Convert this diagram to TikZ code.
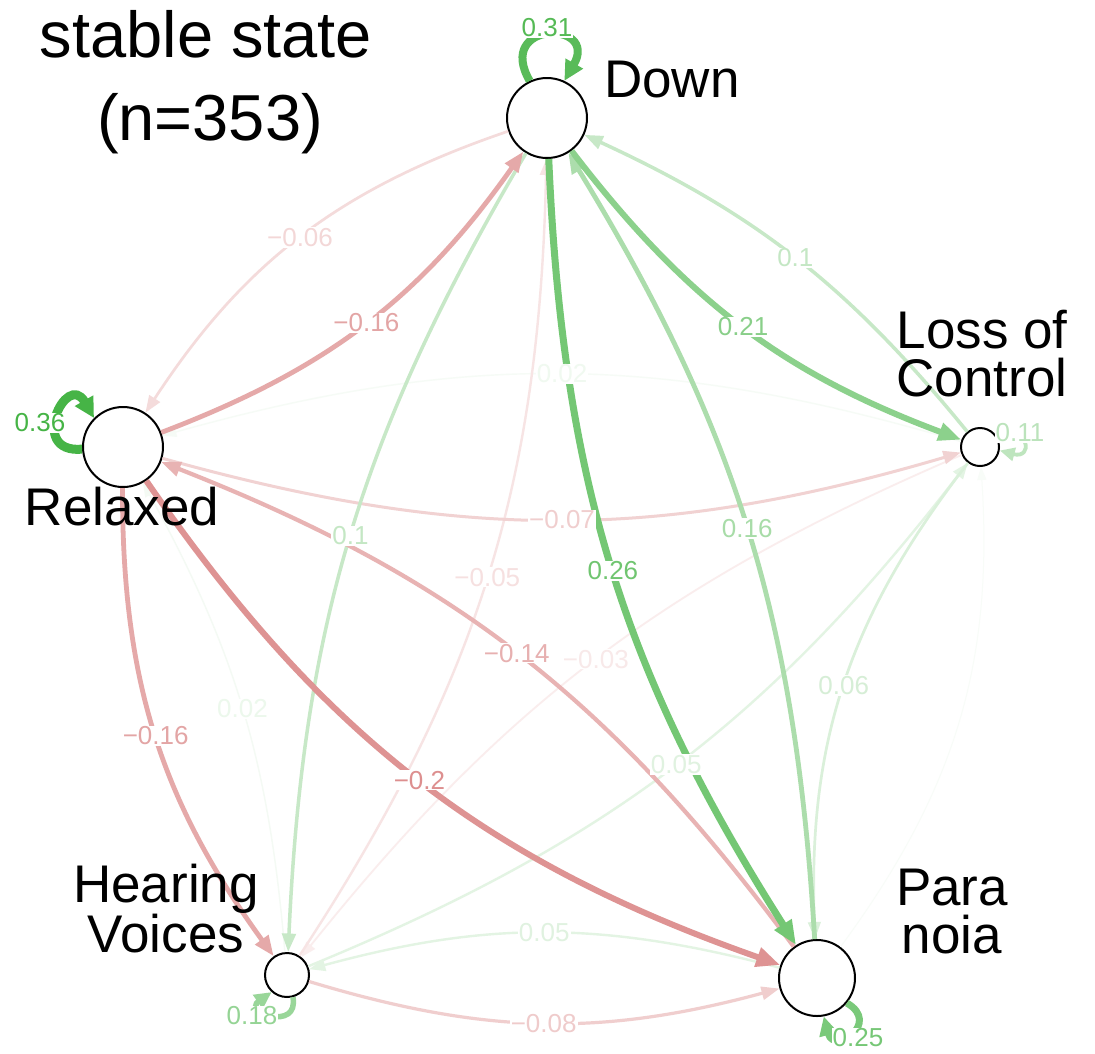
\documentclass[tikz,border=0pt]{standalone}
\usepackage{fontspec}
\setmainfont{Liberation Sans}
\usetikzlibrary{arrows.meta}
\definecolor{posc}{RGB}{70,180,70}
\definecolor{negc}{RGB}{200,75,75}
\begin{document}
\begin{tikzpicture}[x=1pt,y=1pt,
  vert/.style={circle, draw=black, line width=2pt, fill=white, inner sep=0pt, minimum size=#1},
  ed/.style n args={4}{draw=#1, line width=#2, -{Triangle[length=#3,width=#4]}},
  lab/.style={fill=white, inner sep=1pt, font=\fontsize{26}{26}\selectfont},
  big/.style={inner sep=0pt, anchor=base, font=\fontsize{53}{53}\selectfont},
  ttl/.style={inner sep=0pt, anchor=base, font=\fontsize{65}{65}\selectfont},
]
\path[use as bounding box, fill=white] (0,0) rectangle (1095,-1053);

% nodes
\node[vert=80pt] (D) at (547,-118) {};
\node[vert=80pt] (R) at (123,-447) {};
\node[vert=38pt] (L) at (980,-447) {};
\node[vert=44pt] (H) at (287,-975) {};
\node[vert=76pt] (P) at (817,-978) {};

% edges, weakest first
\draw[ed={posc!4!white}{1pt}{13pt}{9pt}] (P) to[bend right=20] (L);
\draw[ed={posc!6!white}{1.4pt}{14pt}{10pt}] (H) to[bend right=12] coordinate[pos=.5] (mHR) (R);
\draw[ed={posc!5!white}{1.4pt}{14pt}{10pt}] (L) to[bend right=16] coordinate[pos=.5] (mLR) (R);
\draw[ed={negc!10!white}{1.8pt}{15pt}{11pt}] (L) to[bend right=14] coordinate[pos=.5] (mLH) (H);
\draw[ed={posc!15!white}{2.4pt}{16pt}{12pt}] (H) to[bend right=15] coordinate[pos=.5] (mHL) (L);
\draw[ed={posc!15!white}{2.4pt}{16pt}{12pt}] (P) to[bend right=15] coordinate[pos=.5] (mPH) (H);
\draw[ed={negc!15!white}{2.4pt}{16pt}{12pt}] (H) to[bend right=16] coordinate[pos=.5] (mHD) (D);
\draw[ed={posc!20!white}{2.7pt}{17pt}{12.5pt}] (L) to[bend right=20] coordinate[pos=.5] (mLP) (P);
\draw[ed={negc!20!white}{2.7pt}{17pt}{12.5pt}] (D) to[bend right=19] coordinate[pos=.5] (mDR) (R);
\draw[ed={negc!25!white}{3pt}{17.5pt}{13pt}] (R) to[bend right=16] coordinate[pos=.5] (mRL) (L);
\draw[ed={negc!27!white}{3.2pt}{18pt}{13pt}] (H) to[bend right=16] coordinate[pos=.5] (mHP) (P);
\draw[ed={posc!30!white}{3.5pt}{18.5pt}{13.5pt}] (D) to[bend right=14] coordinate[pos=.5] (mDH) (H);
\draw[ed={posc!30!white}{3.5pt}{18.5pt}{13.5pt}] (L) to[bend right=13] coordinate[pos=.5] (mLD) (D);
\draw[ed={negc!42!white}{4.2pt}{19.5pt}{14.5pt}] (P) to[bend right=16] coordinate[pos=.5] (mPR) (R);
\draw[ed={posc!45!white}{4.8pt}{20.5pt}{15.5pt}] (P) to[bend right=14] coordinate[pos=.5] (mPD) (D);
\draw[ed={negc!48!white}{4.8pt}{20.5pt}{15.5pt}] (R) to[bend right=17] coordinate[pos=.5] (mRD) (D);
\draw[ed={negc!48!white}{4.8pt}{20.5pt}{15.5pt}] (R) to[bend right=18] coordinate[pos=.5] (mRH) (H);
\draw[ed={negc!60!white}{6pt}{24pt}{19pt}] (R) to[bend right=18] coordinate[pos=.5] (mRP) (P);
\draw[ed={posc!62!white}{6pt}{23pt}{17.5pt}] (D) to[bend right=16] coordinate[pos=.5] (mDL) (L);
\draw[ed={posc!75!white}{7pt}{24.5pt}{19pt}] (D) to[bend right=15] coordinate[pos=.5] (mDP) (P);

% self loops
\draw[ed={posc!35!white}{3.8pt}{15pt}{13pt}] (L.30) to[out=20,in=-15,distance=35pt] (L.-10);
\draw[ed={posc!55!white}{5.5pt}{17pt}{16pt}] (H.285) to[out=280,in=215,distance=35pt] (H.228);
\draw[ed={posc!72!white}{7pt}{19pt}{18pt}] (P.320) to[out=330,in=285,distance=40pt] (P.280);
\draw[ed={posc!90!white}{8pt}{20pt}{19pt}] (D.115) to[out=120,in=60,distance=70pt] (D.65);
\draw[ed={posc}{9pt}{20pt}{20pt}] (R.183) to[out=185,in=120,distance=55pt] (R.135);

% edge labels
\node[lab, text=posc!10!white] (tHR) at (mHR) {0.02};
\node[lab, text=posc!8!white] (tLR) at (mLR) {0.02};
\node[lab, text=negc!12!white] (tLH) at (mLH) {−0.03};
\node[lab, text=posc!17!white] (tHL) at (mHL) {0.05};
\node[lab, text=posc!17!white] (tPH) at (mPH) {0.05};
\node[lab, text=negc!17!white] (tHD) at (mHD) {−0.05};
\node[lab, text=posc!22!white] (tLP) at (mLP) {0.06};
\node[lab, text=negc!22!white] (tDR) at (mDR) {−0.06};
\node[lab, text=negc!27!white] (tRL) at (mRL) {−0.07};
\node[lab, text=negc!29!white] (tHP) at (mHP) {−0.08};
\node[lab, text=posc!32!white] (tDH) at (mDH) {0.1};
\node[lab, text=posc!32!white] (tLD) at (mLD) {0.1};
\node[lab, text=negc!44!white] (tPR) at (mPR) {−0.14};
\node[lab, text=posc!47!white] (tPD) at (mPD) {0.16};
\node[lab, text=negc!50!white] (tRD) at (mRD) {−0.16};
\node[lab, text=negc!50!white] (tRH) at (mRH) {−0.16};
\node[lab, text=negc!62!white] (tRP) at (mRP) {−0.2};
\node[lab, text=posc!64!white] (tDL) at (mDL) {0.21};
\node[lab, text=posc!77!white] (tDP) at (mDP) {0.26};
\node[lab, text=posc!37!white] (tLL) at (1020,-433) {0.11};
\node[lab, text=posc!57!white] (tHH) at (252,-1016) {0.18};
\node[lab, text=posc!74!white] (tPP) at (858,-1038) {0.25};
\node[lab, text=posc!92!white] (tDD) at (547,-28) {0.31};
\node[lab, text=posc] (tRR) at (40,-423) {0.36};

% node names
\node[big] (nD) at (672,-97) {Down};
\node[big] (nL1) at (982,-348) {Loss of};
\node[big] (nL2) at (982,-396) {Control};
\node[big] (nR) at (122,-525) {Relaxed};
\node[big] (nH1) at (166,-902) {Hearing};
\node[big] (nH2) at (166,-952) {Voices};
\node[big] (nP1) at (952,-905) {Para};
\node[big] (nP2) at (952,-953) {noia};

% title
\node[ttl] (t1) at (206,-57) {stable state};
\node[ttl] (t2) at (210,-140) {(n=353)};
\end{tikzpicture}
\end{document}
